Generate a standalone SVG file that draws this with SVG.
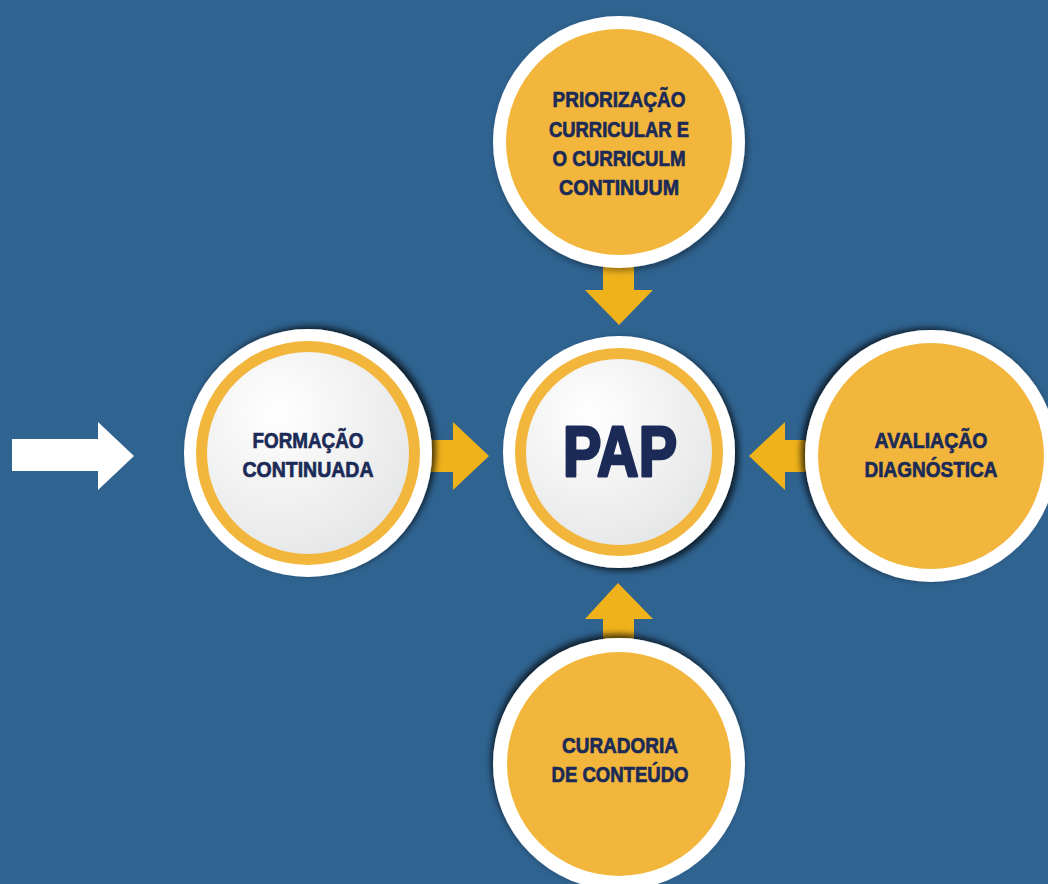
<svg xmlns="http://www.w3.org/2000/svg" width="1048" height="884" viewBox="0 0 1048 884">
<defs>
<style>
.lbl{font-family:"Liberation Sans",Arial,sans-serif;font-weight:bold;font-size:22px;fill:#1B2A56;stroke:#1B2A56;stroke-width:0.7px;text-anchor:middle}
.pap{font-family:"Liberation Sans",Arial,sans-serif;font-weight:bold;font-size:70px;fill:#1B2A56;stroke:#1B2A56;stroke-width:3px;stroke-linejoin:round;text-anchor:middle}
.white{fill:#FFFFFF}
.yel{fill:#F3B63D}
.arr{fill:#EFB21B}
</style>
<radialGradient id="inner" cx="0.35" cy="0.3" r="0.8">
<stop offset="0" stop-color="#FFFFFF"/>
<stop offset="1" stop-color="#E4E5E6"/>
</radialGradient>
<filter id="shL" x="-20%" y="-20%" width="140%" height="140%"><feDropShadow dx="4" dy="-3" stdDeviation="3" flood-color="#000" flood-opacity="0.7"/></filter>
<filter id="shC" x="-20%" y="-20%" width="140%" height="140%"><feDropShadow dx="4" dy="3" stdDeviation="3" flood-color="#000" flood-opacity="0.7"/></filter>
<filter id="shR" x="-20%" y="-20%" width="140%" height="140%"><feDropShadow dx="-4" dy="-2" stdDeviation="3" flood-color="#000" flood-opacity="0.7"/></filter>
<filter id="shB" x="-20%" y="-20%" width="140%" height="140%"><feDropShadow dx="-2" dy="-4" stdDeviation="3" flood-color="#000" flood-opacity="0.7"/></filter>
<filter id="shT" x="-20%" y="-20%" width="140%" height="140%"><feDropShadow dx="2" dy="3" stdDeviation="3" flood-color="#000" flood-opacity="0.4"/></filter>
</defs>
<rect width="1048" height="884" fill="#2F6390"/>

<g id="connectors">
<polygon id="arrow-input" class="white" points="12,439 98,439 98,422 134,456 98,490 98,471 12,471"/>
<polygon id="arrow-top" class="arr" points="603,262 634,262 634,290 653,290 619,325 585,290 603,290"/>
<polygon id="arrow-left" class="arr" points="425,440 453,440 453,422 489,456 453,490 453,472 425,472"/>
<polygon id="arrow-right" class="arr" points="812,440 785,440 785,422 749,456 785,490 785,472 812,472"/>
<polygon id="arrow-bottom" class="arr" points="603,645 603,619 585,619 618,583 653,619 634,619 634,645"/>
</g>

<g id="node-priorizacao">
<circle cx="619" cy="142" r="126" class="white" filter="url(#shT)"/>
<circle cx="619" cy="142" r="113" class="yel"/>
<text class="lbl" x="619" y="107" textLength="133" lengthAdjust="spacingAndGlyphs">PRIORIZAÇÃO</text>
<text class="lbl" x="619" y="137" textLength="140" lengthAdjust="spacingAndGlyphs">CURRICULAR E</text>
<text class="lbl" x="619" y="166" textLength="133" lengthAdjust="spacingAndGlyphs">O CURRICULM</text>
<text class="lbl" x="619" y="195" textLength="120" lengthAdjust="spacingAndGlyphs">CONTINUUM</text>
</g>

<g id="node-formacao">
<circle cx="308" cy="453" r="124" class="white" filter="url(#shL)"/>
<circle cx="308" cy="453" r="112" class="yel"/>
<circle cx="308" cy="453" r="101" fill="url(#inner)"/>
<text class="lbl" x="308" y="448" textLength="111" lengthAdjust="spacingAndGlyphs">FORMAÇÃO</text>
<text class="lbl" x="308" y="477" textLength="131" lengthAdjust="spacingAndGlyphs">CONTINUADA</text>
</g>

<g id="node-pap">
<circle cx="619" cy="452" r="116" class="white" filter="url(#shC)"/>
<circle cx="619" cy="452" r="104" class="yel"/>
<circle cx="619" cy="452" r="93" fill="url(#inner)"/>
<text class="pap" x="620" y="476" textLength="114" lengthAdjust="spacingAndGlyphs">PAP</text>
</g>

<g id="node-avaliacao">
<circle cx="931" cy="456" r="126" class="white" filter="url(#shR)"/>
<circle cx="931" cy="456" r="113" class="yel"/>
<text class="lbl" x="931" y="448" textLength="113" lengthAdjust="spacingAndGlyphs">AVALIAÇÃO</text>
<text class="lbl" x="931" y="477" textLength="133" lengthAdjust="spacingAndGlyphs">DIAGNÓSTICA</text>
</g>

<g id="node-curadoria">
<circle cx="619" cy="764" r="126" class="white" filter="url(#shB)"/>
<circle cx="619" cy="764" r="112" class="yel"/>
<text class="lbl" x="620" y="753" textLength="116" lengthAdjust="spacingAndGlyphs">CURADORIA</text>
<text class="lbl" x="620" y="782" textLength="137" lengthAdjust="spacingAndGlyphs">DE CONTEÚDO</text>
</g>
</svg>
